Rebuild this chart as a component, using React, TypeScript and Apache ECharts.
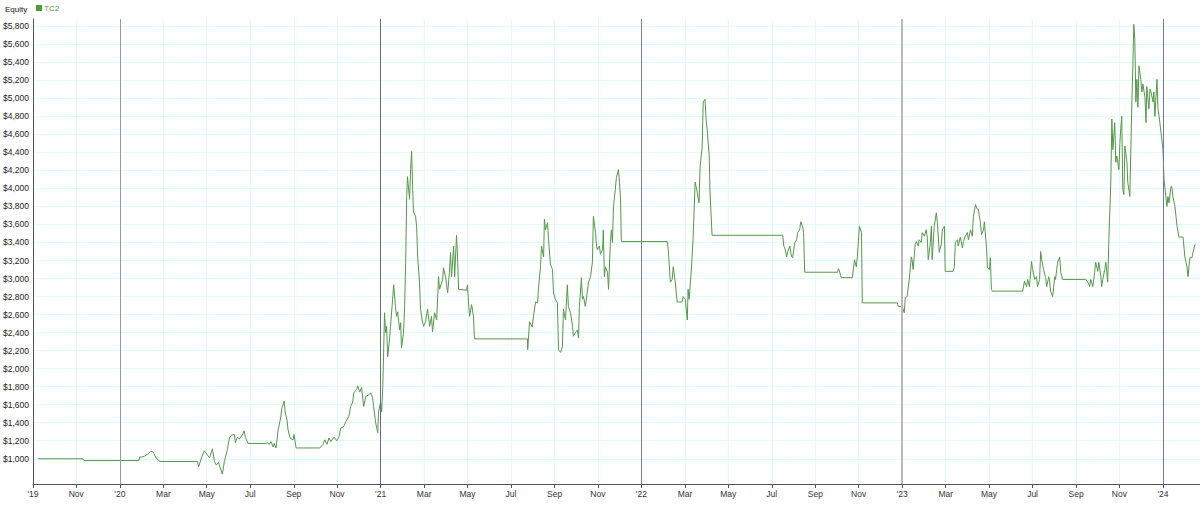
import React, { useEffect, useRef } from "react";
import * as echarts from "echarts";

// x = decimal year, y = equity ($)
const equity2019_20: [number, number][] = [
  [2019.686, 1000], [2019.858, 1000], [2019.862, 980], [2020.073, 980], [2020.076, 1020], [2020.084, 1020],
  [2020.095, 1030], [2020.111, 1060], [2020.118, 1080], [2020.126, 1080], [2020.13, 1060], [2020.137, 1020],
  [2020.149, 980], [2020.153, 970], [2020.298, 970], [2020.302, 910], [2020.313, 1010], [2020.324, 1090],
  [2020.336, 1040], [2020.344, 1010], [2020.355, 1110], [2020.363, 970], [2020.37, 930], [2020.378, 960],
  [2020.385, 900], [2020.393, 830], [2020.401, 970], [2020.412, 1100], [2020.42, 1230], [2020.427, 1260],
  [2020.439, 1270], [2020.443, 1180], [2020.45, 1240], [2020.458, 1220], [2020.469, 1260], [2020.477, 1310],
  [2020.481, 1240], [2020.492, 1170], [2020.561, 1170], [2020.565, 1180], [2020.573, 1160], [2020.58, 1190],
  [2020.588, 1130], [2020.592, 1170], [2020.599, 1120], [2020.607, 1320], [2020.615, 1430], [2020.622, 1570],
  [2020.63, 1640], [2020.634, 1520], [2020.641, 1430], [2020.645, 1320], [2020.653, 1230], [2020.664, 1210],
  [2020.668, 1270], [2020.676, 1120], [2020.767, 1120], [2020.779, 1160], [2020.786, 1210], [2020.794, 1160],
  [2020.802, 1230], [2020.809, 1190], [2020.821, 1240], [2020.832, 1200], [2020.84, 1240], [2020.847, 1340],
  [2020.859, 1360], [2020.866, 1410], [2020.878, 1470], [2020.885, 1580], [2020.893, 1630], [2020.897, 1730],
  [2020.908, 1770], [2020.912, 1810], [2020.92, 1740], [2020.927, 1790], [2020.935, 1580], [2020.943, 1690],
  [2020.954, 1710], [2020.962, 1730], [2020.969, 1680], [2020.973, 1580], [2020.981, 1400], [2020.989, 1290],
  [2020.992, 1520],
];

const equity2021: [number, number][] = [
  [2021.0, 1630], [2021.004, 1520], [2021.008, 1770], [2021.011, 2120], [2021.015, 2620], [2021.019, 2400],
  [2021.023, 2470], [2021.027, 2130], [2021.034, 2320], [2021.038, 2470], [2021.046, 2770], [2021.05, 2930],
  [2021.057, 2690], [2021.061, 2580], [2021.065, 2630], [2021.073, 2430], [2021.077, 2510], [2021.08, 2230],
  [2021.088, 2400], [2021.092, 2690], [2021.096, 3180], [2021.1, 3910], [2021.103, 4130], [2021.111, 3880],
  [2021.115, 4210], [2021.119, 4410], [2021.123, 3990], [2021.126, 3740], [2021.134, 3690], [2021.138, 3580],
  [2021.142, 3240], [2021.149, 2960], [2021.153, 2660], [2021.161, 2510], [2021.165, 2470], [2021.172, 2520],
  [2021.18, 2660], [2021.188, 2470], [2021.195, 2580], [2021.199, 2410], [2021.207, 2620], [2021.215, 2540],
  [2021.222, 3020], [2021.226, 2880], [2021.238, 2990], [2021.241, 3120], [2021.249, 3020], [2021.257, 2840],
  [2021.264, 3070], [2021.268, 3290], [2021.272, 3020], [2021.28, 3360], [2021.284, 3020], [2021.291, 3480],
  [2021.295, 3240], [2021.299, 2880], [2021.33, 2870], [2021.333, 2930], [2021.337, 2730], [2021.341, 2580],
  [2021.349, 2710], [2021.356, 2580], [2021.36, 2330], [2021.563, 2330], [2021.564, 2210], [2021.571, 2520],
  [2021.582, 2460], [2021.586, 2580], [2021.594, 2740], [2021.602, 2730], [2021.605, 2880], [2021.613, 3130],
  [2021.617, 3360], [2021.625, 3240], [2021.628, 3660], [2021.632, 3540], [2021.64, 3620], [2021.644, 3430],
  [2021.651, 3160], [2021.659, 3100], [2021.663, 2840], [2021.67, 2770], [2021.678, 2730], [2021.682, 2210],
  [2021.69, 2180], [2021.697, 2240], [2021.701, 2660], [2021.709, 2540], [2021.716, 2930], [2021.72, 2690],
  [2021.728, 2620], [2021.736, 2470], [2021.739, 2360], [2021.747, 2400], [2021.755, 2430], [2021.759, 2340],
  [2021.762, 2680], [2021.77, 3010], [2021.774, 2770], [2021.778, 2800], [2021.785, 2690], [2021.793, 2860],
  [2021.797, 2960], [2021.805, 3020], [2021.812, 3180], [2021.816, 3690], [2021.824, 3510], [2021.828, 3360],
  [2021.831, 3320], [2021.839, 3360], [2021.843, 3270], [2021.851, 3320], [2021.854, 3540], [2021.858, 3020],
  [2021.862, 3130], [2021.87, 3070], [2021.874, 2880], [2021.881, 3400], [2021.885, 3540], [2021.889, 3400],
  [2021.893, 3800], [2021.9, 3990], [2021.904, 4120], [2021.912, 4210], [2021.916, 4070], [2021.92, 3880],
  [2021.923, 3410],
];

const equity2022: [number, number][] = [
  [2022.099, 3410], [2022.103, 3320], [2022.111, 2960], [2022.118, 2990], [2022.122, 3130], [2022.13, 2960],
  [2022.137, 2740], [2022.156, 2740], [2022.16, 2800], [2022.168, 2770], [2022.176, 2540], [2022.179, 2880],
  [2022.183, 2770], [2022.191, 3070], [2022.198, 3430], [2022.206, 4070], [2022.214, 3960], [2022.221, 3840],
  [2022.225, 4240], [2022.233, 4460], [2022.237, 4960], [2022.244, 4990], [2022.248, 4770], [2022.252, 4660],
  [2022.26, 4360], [2022.263, 3960], [2022.271, 3480], [2022.542, 3480], [2022.546, 3360], [2022.55, 3340],
  [2022.557, 3240], [2022.561, 3300], [2022.569, 3360], [2022.576, 3240], [2022.58, 3230], [2022.588, 3400],
  [2022.595, 3430], [2022.599, 3510], [2022.607, 3540], [2022.611, 3630], [2022.618, 3580], [2022.622, 3510],
  [2022.626, 3070], [2022.752, 3070], [2022.756, 3110], [2022.767, 3010], [2022.809, 3010], [2022.817, 3210],
  [2022.824, 3130], [2022.828, 3240], [2022.836, 3580], [2022.844, 3510], [2022.847, 2730], [2022.981, 2730],
  [2022.985, 2690],
];

const equity2023: [number, number][] = [
  [2023.0, 2690], [2023.008, 2620], [2023.012, 2790], [2023.019, 2800], [2023.027, 2990], [2023.035, 3240],
  [2023.038, 3210], [2023.042, 3100], [2023.05, 3380], [2023.054, 3410], [2023.062, 3360], [2023.065, 3430],
  [2023.073, 3400], [2023.077, 3510], [2023.085, 3470], [2023.092, 3540], [2023.096, 3460], [2023.1, 3210],
  [2023.108, 3400], [2023.112, 3580], [2023.115, 3210], [2023.123, 3580], [2023.131, 3730], [2023.135, 3620],
  [2023.142, 3290], [2023.15, 3380], [2023.154, 3540], [2023.162, 3580], [2023.165, 3080], [2023.196, 3080],
  [2023.2, 3130], [2023.204, 3400], [2023.212, 3430], [2023.215, 3360], [2023.223, 3460], [2023.231, 3340],
  [2023.235, 3410], [2023.242, 3470], [2023.25, 3510], [2023.254, 3430], [2023.262, 3540], [2023.269, 3470],
  [2023.273, 3690], [2023.281, 3820], [2023.288, 3770], [2023.292, 3770], [2023.3, 3620], [2023.304, 3490],
  [2023.312, 3540], [2023.315, 3630], [2023.323, 3360], [2023.327, 3120], [2023.335, 3100], [2023.338, 3230],
  [2023.342, 2880], [2023.346, 2860], [2023.462, 2860], [2023.469, 2970], [2023.477, 2910], [2023.481, 2990],
  [2023.488, 2910], [2023.496, 3190], [2023.5, 3100], [2023.508, 2990], [2023.515, 3020], [2023.519, 2910],
  [2023.527, 2990], [2023.531, 3300], [2023.535, 3210], [2023.542, 3100], [2023.55, 3010], [2023.554, 2910],
  [2023.562, 3020], [2023.565, 2990], [2023.569, 2860], [2023.577, 2800], [2023.585, 3020], [2023.588, 2990],
  [2023.596, 3180], [2023.604, 3240], [2023.608, 3070], [2023.615, 2990], [2023.704, 2990], [2023.712, 2960],
  [2023.719, 2910], [2023.723, 2990], [2023.731, 2910], [2023.738, 3070], [2023.742, 3180], [2023.75, 3080],
  [2023.754, 3180], [2023.762, 3020], [2023.765, 2910], [2023.769, 2990], [2023.777, 3100], [2023.781, 3180],
  [2023.788, 2960], [2023.792, 3380], [2023.796, 3730], [2023.8, 4070], [2023.804, 4770], [2023.808, 4430],
  [2023.815, 4730], [2023.819, 4290], [2023.823, 4360], [2023.831, 4210], [2023.835, 4510], [2023.838, 4660],
  [2023.842, 4800], [2023.846, 3990], [2023.85, 3930], [2023.854, 4470], [2023.862, 4290], [2023.865, 4070],
  [2023.873, 3910], [2023.877, 4470], [2023.881, 4990], [2023.885, 5400], [2023.888, 5820], [2023.892, 5660],
  [2023.896, 4960], [2023.9, 5210], [2023.904, 4900], [2023.908, 5360], [2023.915, 5210], [2023.919, 5070],
  [2023.923, 5160], [2023.931, 5010], [2023.935, 4730], [2023.938, 5130], [2023.946, 4880], [2023.95, 5100],
  [2023.954, 5070], [2023.962, 4960], [2023.965, 5070], [2023.969, 4800], [2023.977, 5210], [2023.981, 4880],
  [2023.985, 4800], [2023.988, 4730],
];

const equity2024: [number, number][] = [
  [2024.0, 4430], [2024.004, 4100], [2024.008, 3990], [2024.015, 3800], [2024.019, 3910], [2024.023, 3840],
  [2024.031, 4020], [2024.034, 4020], [2024.038, 3910], [2024.046, 3800], [2024.05, 3690], [2024.054, 3580],
  [2024.061, 3460], [2024.077, 3460], [2024.084, 3240], [2024.092, 3130], [2024.096, 3020], [2024.103, 3230],
  [2024.111, 3230], [2024.115, 3290], [2024.123, 3380],
];

const yTicks = [1000, 1200, 1400, 1600, 1800, 2000, 2200, 2400, 2600, 2800, 3000, 3200, 3400, 3600, 3800, 4000,
  4200, 4400, 4600, 4800, 5000, 5200, 5400, 5600, 5800];

const xTickValues = [2019.667, 2019.833, 2020, 2020.167, 2020.333, 2020.5, 2020.667, 2020.833,
  2021, 2021.167, 2021.333, 2021.5, 2021.667, 2021.833, 2022, 2022.167, 2022.333, 2022.5, 2022.667, 2022.833,
  2023, 2023.167, 2023.333, 2023.5, 2023.667, 2023.833, 2024];
const xTickLabels = ["'19", "Nov", "'20", "Mar", "May", "Jul", "Sep", "Nov",
  "'21", "Mar", "May", "Jul", "Sep", "Nov", "'22", "Mar", "May", "Jul", "Sep", "Nov",
  "'23", "Mar", "May", "Jul", "Sep", "Nov", "'24"];

const yearLines = [2020, 2021, 2022, 2023, 2024];
const yearLineColors = ["#9a9a9a", "#6a6690", "#7a78bc", "#b8b8b8", "#7472c4"];
const yearLineWidths = [1, 1, 1, 2, 1];

export default function App() {
  const ref = useRef<HTMLDivElement>(null);
  useEffect(() => {
    document.body.style.margin = "0";
    if (!ref.current) return;
    const chart = echarts.init(ref.current, undefined, { renderer: "svg" });
    const data = [...equity2019_20, ...equity2021, ...equity2022, ...equity2023, ...equity2024];
    const font = "'Liberation Sans', Arial, sans-serif";
    chart.setOption({
      animation: false,
      backgroundColor: "#ffffff",
      title: {
        text: "Equity",
        left: 5,
        top: 5,
        padding: 0,
        textStyle: { color: "#111111", fontSize: 8, fontWeight: "normal", fontFamily: font },
      },
      legend: {
        data: ["TC2"],
        left: 36,
        top: 4,
        icon: "rect",
        itemWidth: 6,
        itemHeight: 6,
        itemGap: 2,
        padding: 0,
        textStyle: { color: "#4f9a3f", fontSize: 8, fontFamily: font, padding: [0, 0, 0, -3] },
      },
      grid: { left: 31, right: 0, top: 19, bottom: 24, containLabel: false },
      xAxis: {
        type: "value",
        min: 2019.667,
        max: 2024.142,
        axisLine: { show: true, lineStyle: { color: "#555", width: 1 } },
        axisTick: { show: true, length: 4, customValues: xTickValues, lineStyle: { color: "#555" } },
        axisLabel: {
          customValues: xTickValues,
          fontSize: 8.5,
          fontFamily: font,
          color: "#333",
          margin: 5,
          formatter: (v: number) => {
            const i = xTickValues.findIndex((t) => Math.abs(t - v) < 1e-6);
            return i >= 0 ? xTickLabels[i] : "";
          },
        },
        splitLine: { show: true, lineStyle: { color: "#defcfc", width: 1 } },
      },
      yAxis: {
        type: "value",
        min: 720,
        max: 5880,
        axisLine: { show: true, lineStyle: { color: "#555", width: 1 } },
        axisTick: { show: false, customValues: yTicks },
        axisLabel: {
          customValues: yTicks,
          fontSize: 8.5,
          fontFamily: font,
          color: "#222",
          margin: 4,
          formatter: (v: number) => "$" + v.toLocaleString("en-US"),
        },
        splitLine: { show: true, lineStyle: { color: "#defcfc", width: 1 } },
      },
      series: [
        {
          name: "TC2",
          type: "line",
          data,
          showSymbol: false,
          symbol: "none",
          color: "#4f9a3f",
          lineStyle: { color: "#55974a", width: 1 },
          markLine: {
            silent: true,
            symbol: ["none", "none"],
            label: { show: false },
            data: yearLines.map((y, i) => ({
              xAxis: y,
              lineStyle: { color: yearLineColors[i], width: yearLineWidths[i], type: "solid" },
            })),
          },
        },
      ],
    });
    return () => chart.dispose();
  }, []);
  return <div ref={ref} style={{ width: 1200, height: 508 }} />;
}
